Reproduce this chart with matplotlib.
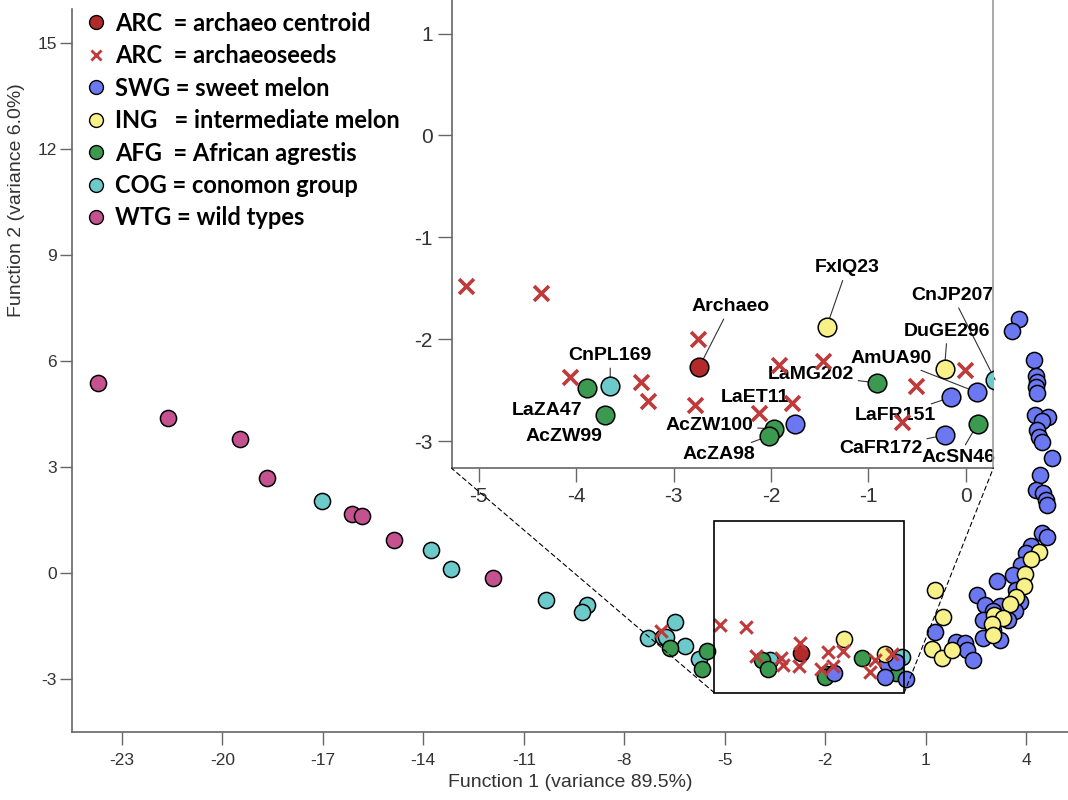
import matplotlib
matplotlib.use('Agg')
import matplotlib.pyplot as plt
from matplotlib.lines import Line2D
from matplotlib.patches import Rectangle, ConnectionPatch

plt.rcParams['axes.unicode_minus'] = False

# wild types
wtg_x = [-23.72, -21.61, -19.46, -18.66, -16.14, -15.84, -14.86, -11.91]
wtg_y = [5.38, 4.39, 3.78, 2.69, 1.67, 1.59, 0.93, -0.15]

# conomon group (CnPL169, CnJP207 at the end)
cog_x = [-17.02, -13.77, -13.18, -10.33, -9.12, -9.25, -7.30, -6.84, -6.74,
         -6.48, -6.19, -5.77, -3.65, 0.30]
cog_y = [2.03, 0.65, 0.10, -0.77, -0.93, -1.12, -1.86, -1.83, -1.81,
         -1.41, -2.07, -2.45, -2.46, -2.40]

# African agrestis
afg_x = [-6.62, -5.54, -5.69, -3.89, -3.70, -1.97, -2.02, -0.91, 0.12]
afg_y = [-2.14, -2.22, -2.73, -2.48, -2.74, -2.88, -2.95, -2.43, -2.83]

# sweet melon
swg_x = [-1.75, -0.15, 0.11, -0.21, 0.40,
         3.79, 3.57, 4.23, 4.29, 4.31, 4.29, 4.31, 4.26, 4.66, 4.46, 4.31,
         4.39, 4.46, 4.77, 4.41, 4.29, 4.51, 4.58, 4.61, 4.46, 4.61, 4.16,
         4.01, 3.86, 3.61, 3.12, 3.71, 2.52, 3.81, 3.22, 2.77, 3.66, 3.02,
         2.72, 3.47, 3.02, 2.72, 3.22, 1.28, 1.92, 2.17, 2.24, 2.42]
swg_y = [-2.83, -2.57, -2.52, -2.94, -3.00,
         7.17, 6.85, 6.02, 5.57, 5.41, 5.25, 5.08, 4.46, 4.40, 4.30, 4.04,
         3.85, 3.71, 3.24, 2.77, 2.34, 2.25, 2.06, 1.92, 1.12, 1.00, 0.74,
         0.55, 0.22, -0.07, -0.25, -0.49, -0.63, -0.82, -0.94, -0.91, -1.10, -1.10,
         -1.34, -1.34, -1.62, -1.86, -1.90, -1.67, -1.95, -2.00, -2.19, -2.47]

# intermediate melon (FxIQ23, DuGE296 first)
ing_x = [-1.43, -0.22, 4.39, 4.16, 3.98, 3.93, 3.71, 3.51, 3.04, 3.32, 2.97,
         3.00, 1.28, 1.51, 1.18, 1.48, 1.80]
ing_y = [-1.88, -2.29, 0.59, 0.38, -0.04, -0.38, -0.68, -0.89, -1.20, -1.29, -1.45,
         -1.76, -0.49, -1.25, -2.17, -2.42, -2.19]

# archaeoseeds and their centroid
arc_x = [-5.13, -4.36, -2.75, -4.06, -3.33, -3.26, -2.78, -2.12, -1.92, -1.78,
         -1.47, -0.51, -0.66, -0.01, -6.91]
arc_y = [-1.48, -1.55, -2.00, -2.37, -2.42, -2.61, -2.65, -2.72, -2.25, -2.63,
         -2.21, -2.46, -2.81, -2.30, -1.64]
arc_cx = [-2.735]
arc_cy = [-2.27]

# labels in the zoom panel: (text, x, y, text_x, text_y, leader line)
labels = [
    ('CnPL169', -3.65, -2.46, -3.65, -2.16, True),
    ('LaZA47', -3.89, -2.48, -4.30, -2.70, False),
    ('AcZW99', -3.70, -2.74, -4.12, -2.96, False),
    ('Archaeo', -2.735, -2.27, -2.42, -1.68, True),
    ('AcZW100', -1.97, -2.88, -2.63, -2.85, True),
    ('AcZA98', -2.02, -2.95, -2.53, -3.13, True),
    ('LaET11', -1.75, -2.83, -2.17, -2.57, False),
    ('FxIQ23', -1.43, -1.88, -1.22, -1.30, True),
    ('CnJP207', 0.30, -2.40, -0.14, -1.57, True),
    ('DuGE296', -0.22, -2.29, -0.19, -1.92, True),
    ('AmUA90', 0.11, -2.52, -0.77, -2.19, True),
    ('LaMG202', -0.91, -2.43, -1.59, -2.35, True),
    ('LaFR151', -0.15, -2.57, -0.72, -2.75, True),
    ('CaFR172', -0.21, -2.94, -0.87, -3.07, True),
    ('AcSN46', 0.12, -2.83, -0.08, -3.16, True),
]

c_red = '#b22a2a'
c_x = '#c0393b'
c_blue = '#6b78f2'
c_yellow = '#f8f189'
c_green = '#3b9a50'
c_cyan = '#6dcacb'
c_mag = '#c4528f'

narrow = ['Liberation Sans Narrow', 'Liberation Sans', 'DejaVu Sans']
legfont = ['Lato', 'DejaVu Sans']

fig = plt.figure(figsize=(10.68, 8), dpi=100)
ax = fig.add_axes([0.0677, 0.0846, 0.9323, 0.9044])


def draw(a, s_dot, s_x, lw_x):
    kw = dict(edgecolors='black', linewidths=1.1, zorder=3)
    a.scatter(wtg_x, wtg_y, s=s_dot, c=c_mag, **kw)
    a.scatter(cog_x, cog_y, s=s_dot, c=c_cyan, **kw)
    a.scatter(afg_x, afg_y, s=s_dot, c=c_green, **kw)
    a.scatter(swg_x, swg_y, s=s_dot, c=c_blue, **kw)
    a.scatter(ing_x, ing_y, s=s_dot, c=c_yellow, **kw)
    a.scatter(arc_x, arc_y, s=s_x, marker='x', c=c_x, linewidths=lw_x, zorder=4)
    a.scatter(arc_cx, arc_cy, s=s_dot, c=c_red, **kw)


draw(ax, 135, 80, 2.2)

ax.set_xlim(-24.48, 5.25)
ax.set_ylim(-4.52, 15.96)
ax.set_xticks([-23, -20, -17, -14, -11, -8, -5, -2, 1, 4])
ax.set_yticks([-3, 0, 3, 6, 9, 12, 15])
ax.spines['top'].set_visible(False)
ax.spines['right'].set_visible(False)
for sp in ['left', 'bottom']:
    ax.spines[sp].set_color('#666666')
    ax.spines[sp].set_linewidth(1.2)
ax.tick_params('both', direction='out', length=9, width=1.0, color='#666666',
               labelcolor='#333333')
ax.tick_params('x', pad=6)
ax.tick_params('y', pad=2)
for t in ax.get_xticklabels() + ax.get_yticklabels():
    t.set_fontfamily(narrow)
    t.set_fontsize(12.5)

ax.set_xlabel('Function 1 (variance 89.5%)', fontsize=14, family=narrow,
              color='#333333', labelpad=4)
ax.set_ylabel('Function 2 (variance 6.0%)', fontsize=14, family=narrow,
              color='#333333')
ax.yaxis.set_label_coords(-0.048, 0.735)

# zoom rectangle
ax.add_patch(Rectangle((-5.31, -3.40), 5.67, 4.86, fill=False, ec='black',
                       lw=1.2, zorder=5))

# legend
handles = [
    Line2D([], [], ls='', marker='o', mfc=c_red, mec='black', ms=10, mew=1),
    Line2D([], [], ls='', marker='x', color=c_x, ms=6.5, mew=2.0),
    Line2D([], [], ls='', marker='o', mfc=c_blue, mec='black', ms=10, mew=1),
    Line2D([], [], ls='', marker='o', mfc=c_yellow, mec='black', ms=10, mew=1),
    Line2D([], [], ls='', marker='o', mfc=c_green, mec='black', ms=10, mew=1),
    Line2D([], [], ls='', marker='o', mfc=c_cyan, mec='black', ms=10, mew=1),
    Line2D([], [], ls='', marker='o', mfc=c_mag, mec='black', ms=10, mew=1),
]
leg_labels = ['ARC  = archaeo centroid', 'ARC  = archaeoseeds', 'SWG = sweet melon',
              'ING   = intermediate melon', 'AFG  = African agrestis',
              'COG = conomon group', 'WTG = wild types']
leg = ax.legend(handles, leg_labels, loc='upper left', bbox_to_anchor=(0.0025, 1.009),
                frameon=False, handlelength=1.0, handletextpad=0.3,
                labelspacing=0.4, borderaxespad=0.0,
                prop={'family': legfont, 'weight': 'bold', 'size': 17})

# inset
axin = fig.add_axes([0.4229, 0.4146, 0.5071, 0.5854])
axin.set_facecolor('white')
draw(axin, 180, 115, 2.6)
axin.set_xlim(-5.277, 0.28)
axin.set_ylim(-3.268, 1.33)
axin.set_xticks([-5, -4, -3, -2, -1, 0])
axin.set_yticks([-3, -2, -1, 0, 1])
axin.spines['top'].set_visible(False)
for sp in ['left', 'bottom', 'right']:
    axin.spines[sp].set_color('#666666')
    axin.spines[sp].set_linewidth(1.2)
axin.spines['right'].set_color('#999999')
axin.tick_params('both', direction='out', length=10, width=1.0, color='#666666',
                 labelcolor='#333333')
for t in axin.get_xticklabels() + axin.get_yticklabels():
    t.set_fontfamily(narrow)
    t.set_fontsize(15)

for name, px, py, tx, ty, leader in labels:
    if leader:
        axin.annotate(name, xy=(px, py), xytext=(tx, ty), ha='center', va='center',
                      fontsize=14, fontweight='bold', family=narrow, zorder=2,
                      annotation_clip=False,
                      arrowprops=dict(arrowstyle='-', color='#333333', lw=0.8,
                                      shrinkA=1, shrinkB=0))
    else:
        axin.text(tx, ty, name, ha='center', va='center', fontsize=14,
                  fontweight='bold', family=narrow, zorder=2)

# dashed connectors from the rectangle to the inset
for xa, xb in [(-5.31, -5.277), (0.36, 0.28)]:
    con = ConnectionPatch(xyA=(xa, -3.40), coordsA=ax.transData,
                          xyB=(xb, -3.268), coordsB=axin.transData,
                          ls=(0, (4, 3)), lw=0.8, color='black')
    fig.add_artist(con)

fig.savefig('out.png', dpi=100)
